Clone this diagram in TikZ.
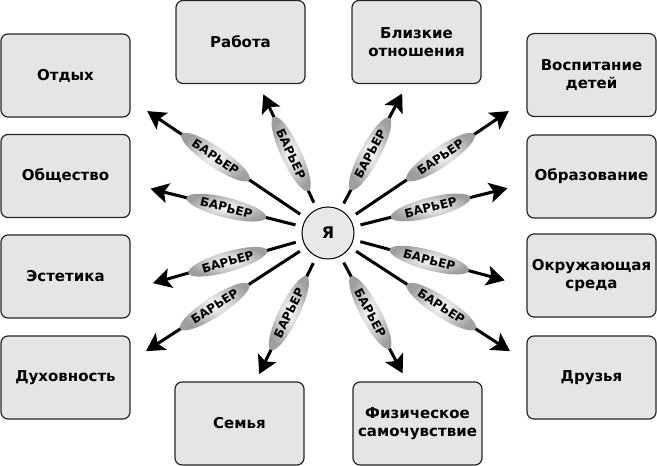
\documentclass[tikz,border=0pt]{standalone}
\usepackage{fontspec}
\setmainfont{DejaVu Sans}
\usetikzlibrary{arrows.meta}
\usetikzlibrary{shapes.geometric}

\begin{document}
\begin{tikzpicture}[x=1pt,y=1pt,
	area/.style={draw=black!85,line width=1.2pt,fill=black!10,rounded corners=7pt,minimum width=129pt,minimum height=83pt,align=center,font=\fontsize{15}{18}\selectfont\bfseries},
	self/.style={draw=black,circle,line width=1pt,fill=black!9,minimum size=52pt,font=\fontsize{16}{17}\selectfont\bfseries},
	barrier/.style={ellipse,inner sep=0pt,minimum width=82pt,minimum height=20pt,inner color=white,outer color=black!38,font=\fontsize{12}{13}\selectfont\bfseries},
	ray/.style={-{Stealth[length=18pt,width=20pt,inset=4pt]},line width=3pt,shorten <=7pt}]
\useasboundingbox (0,0) rectangle (657,466);
\node[self] (ya) at (328,233) {Я};
% left column
\node[area] (otdyh) at (65.5,390.5) {Отдых};
\node[area] (obshchestvo) at (65.5,290) {Общество};
\node[area] (estetika) at (65.5,189.5) {Эстетика};
\node[area] (dukhovnost) at (65.5,88.5) {Духовность};
% top and bottom
\node[area] (rabota) at (240.5,424) {Работа};
\node[area] (blizkie) at (416.5,424) {Близкие\\отношения};
\node[area] (semya) at (239.5,42.5) {Семья};
\node[area] (fizicheskoe) at (417.5,42.5) {Физическое\\самочувствие};
% right column
\node[area] (vospitanie) at (591.5,391) {Воспитание\\детей};
\node[area] (obrazovanie) at (591.5,289.5) {Образование};
\node[area] (sreda) at (591.5,190.5) {Окружающая\\среда};
\node[area] (druzya) at (591.5,88.5) {Друзья};
% rays with barriers
\foreach \a/\l/\p [count=\i] in {146/218/.57,166/183/.50,115/153/.48,62/158/.48,34/218/.57,14/185/.50,-15/183/.50,-33/217/.57,-62/159/.48,-116/157/.48,-147/217/.57,-164/182/.50}
{
	\coordinate (tip\i) at ([shift={(\a:\l)}]ya.center);
	\draw[ray] (ya) -- (tip\i) node[barrier,pos=\p,sloped] {БАРЬЕР};
}
\end{tikzpicture}
\end{document}
